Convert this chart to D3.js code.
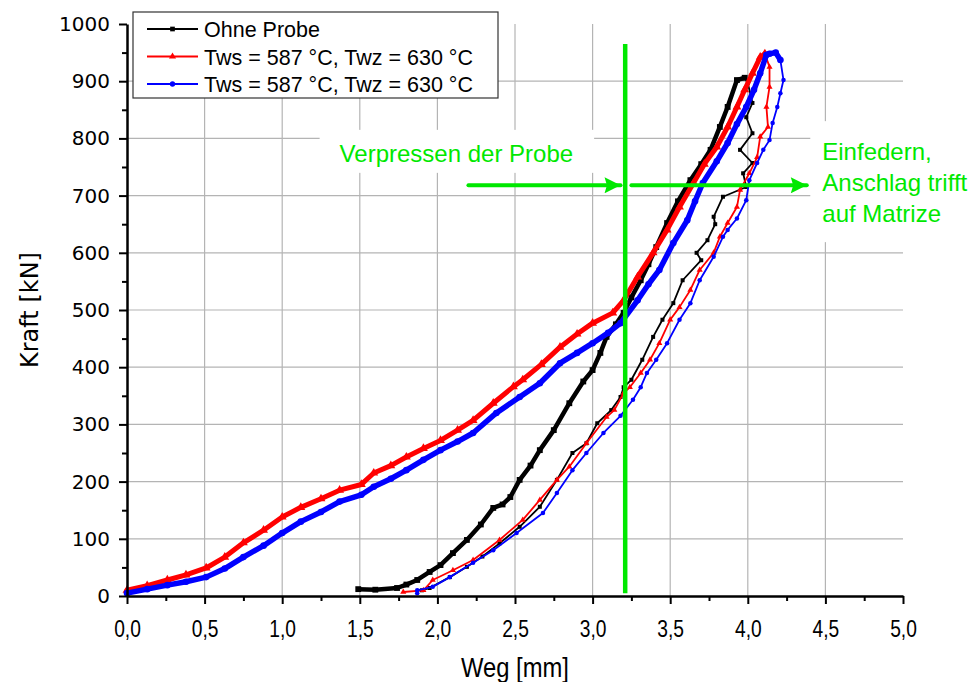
<!DOCTYPE html>
<html>
<head>
<meta charset="utf-8">
<script src="https://cdn.jsdelivr.net/npm/d3@7"></script>
<style>
  body { margin: 0; background: #fff; }
  svg { display: block; }
  .grid line { stroke: #b4b4b4; stroke-width: 1.2; }
  .axis path, .axis line { stroke: #000; }
</style>
</head>
<body>
<svg id="chart" width="980" height="682"></svg>
<script>
// Weg [mm] / Kraft [kN]
// loading branch ("Laden") and unloading branch ("Entlasten") of every run
var ohneLaden = [[1.49,12],[1.60,11],[1.74,14],[1.80,20],[1.87,28],[1.95,42],[2.02,54],[2.10,75],[2.19,98],
	[2.28,125],[2.36,154],[2.42,160],[2.47,173],[2.53,203],[2.60,228],[2.66,255],[2.75,290],[2.85,337],[2.94,375],
	[3.00,395],[3.05,425],[3.09,453],[3.15,475],[3.20,495],[3.25,522],[3.31,552],[3.36,580],[3.41,610],
	[3.48,652],[3.55,690],[3.63,727],[3.70,755],[3.76,780],[3.82,820],[3.87,855],[3.93,902],[3.98,906]];
var ohneEntlasten = [[3.98,906],[4.00,897],[4.03,862],[3.99,837],[4.03,809],[3.95,780],[4.03,757],[3.97,739],
	[3.99,715],[3.84,698],[3.78,663],[3.79,650],[3.74,622],[3.67,600],[3.70,587],[3.58,552],[3.52,512],
	[3.45,483],[3.39,453],[3.32,413],[3.25,378],[3.20,365],[3.18,348],[3.12,325],[3.03,302],[2.96,267],
	[2.87,250],[2.77,203],[2.66,156],[2.53,121],[2.40,92],[2.29,69],[2.19,51],[2.08,33],[1.95,14],[1.90,10]];

var rotLaden = [[0.00,10],[0.13,18],[0.26,28],[0.38,37],[0.51,49],[0.63,68],[0.75,93],[0.88,115],[1.00,138],
	[1.12,155],[1.25,170],[1.37,185],[1.51,195],[1.59,215],[1.70,228],[1.80,243],[1.91,258],[2.02,272],
	[2.13,290],[2.23,307],[2.36,337],[2.49,366],[2.55,378],[2.67,405],[2.79,435],[2.90,458],[3.00,477],
	[3.13,495],[3.20,517],[3.29,558],[3.39,600],[3.48,640],[3.56,680],[3.65,722],[3.72,755],[3.80,785],
	[3.87,820],[3.93,855],[3.98,885],[4.03,914],[4.08,942],[4.11,948]];
var rotEntlasten = [[4.11,948],[4.14,925],[4.14,890],[4.12,855],[4.13,820],[4.08,803],[4.06,767],[4.01,739],
	[3.95,710],[3.93,680],[3.87,652],[3.82,628],[3.78,600],[3.69,570],[3.63,535],[3.56,505],[3.50,483],
	[3.43,442],[3.37,413],[3.31,390],[3.24,365],[3.20,355],[3.14,325],[3.09,313],[2.96,267],[2.85,226],
	[2.77,203],[2.66,168],[2.55,133],[2.40,98],[2.23,63],[2.10,45],[1.97,28],[1.91,10],[1.78,7]];

var blauLaden = [[0.00,5],[0.13,12],[0.26,19],[0.38,25],[0.51,33],[0.63,48],[0.75,68],[0.88,88],[1.00,110],
	[1.12,130],[1.25,147],[1.37,165],[1.51,177],[1.59,191],[1.70,205],[1.80,220],[1.91,238],[2.02,255],
	[2.13,270],[2.23,285],[2.38,320],[2.53,348],[2.66,372],[2.79,407],[2.90,425],[3.00,442],[3.10,460],
	[3.18,477],[3.29,517],[3.36,545],[3.43,570],[3.52,617],[3.61,657],[3.66,690],[3.71,722],[3.80,760],
	[3.87,792],[3.93,825],[3.99,855],[4.04,885],[4.08,914],[4.12,946],[4.14,948],[4.18,950],[4.21,937]];
var blauEntlasten = [[4.21,937],[4.23,902],[4.21,879],[4.19,855],[4.16,827],[4.14,797],[4.10,780],[4.06,757],
	[4.01,727],[3.99,692],[3.93,660],[3.87,640],[3.84,628],[3.78,593],[3.69,552],[3.63,512],[3.56,483],
	[3.48,442],[3.41,413],[3.35,390],[3.31,365],[3.26,343],[3.18,315],[3.07,285],[2.96,250],[2.87,220],
	[2.77,180],[2.68,145],[2.51,110],[2.36,80],[2.23,58],[2.08,33],[1.97,16],[1.87,10],[1.87,5]];

var legendLabels = ["Ohne Probe", "Tws = 587 °C, Twz = 630 °C", "Tws = 587 °C, Twz = 630 °C"];
var xTicks = [0, 0.5, 1, 1.5, 2, 2.5, 3, 3.5, 4, 4.5, 5];
var yTicks = [0, 100, 200, 300, 400, 500, 600, 700, 800, 900, 1000];
var grenzeWeg = 3.21;        // green separator
var annoLinks = ["Verpressen der Probe"];
var annoRechts = ["Einfedern,", "Anschlag trifft", "auf Matrize"];

var GREEN = "#00e800";
var margin = {top: 24, right: 77, bottom: 86, left: 127};
var svg = d3.select("#chart");
var W = +svg.attr("width") - margin.left - margin.right;
var H = +svg.attr("height") - margin.top - margin.bottom;

var x = d3.scaleLinear().domain([0, 5]).range([0, W]);
var y = d3.scaleLinear().domain([0, 1000]).range([H, 0]);

var g = svg.append("g").attr("transform", "translate(" + margin.left + "," + margin.top + ")");

// grid
g.append("g").attr("class", "grid")
	.selectAll("line").data(xTicks.filter(function(d) { return d > 0 && d < 5; }))
	.enter().append("line")
	.attr("x1", function(d) { return x(d); }).attr("x2", function(d) { return x(d); })
	.attr("y1", 0).attr("y2", H);
g.append("g").attr("class", "grid")
	.selectAll("line").data(yTicks.filter(function(d) { return d > 0 && d < 1000; }))
	.enter().append("line")
	.attr("y1", function(d) { return y(d); }).attr("y2", function(d) { return y(d); })
	.attr("x1", 0).attr("x2", W);

// annotation text, white boxes behind them hide the grid
var boxLayer = g.append("g");

var tLinks = g.append("text")
	.attr("x", x(1.37)).attr("y", y(759))
	.attr("fill", GREEN)
	.style("font-family", "'Liberation Sans', Arial, sans-serif")
	.style("font-size", "24px")
	.text(annoLinks[0]);

var tRechts = g.append("text")
	.attr("x", x(4.48)).attr("y", y(762))
	.attr("fill", GREEN)
	.style("font-family", "'Liberation Sans', Arial, sans-serif")
	.style("font-size", "24px");
tRechts.selectAll("tspan").data(annoRechts).enter().append("tspan")
	.attr("x", x(4.48))
	.attr("dy", function(d, i) { return i === 0 ? 0 : 31; })
	.text(function(d) { return d; });

var b1 = tLinks.node().getBBox();
boxLayer.append("rect").attr("x", b1.x - 20).attr("y", b1.y - 10).attr("width", b1.width + 41).attr("height", b1.height + 16).attr("fill", "#fff");
var b2 = tRechts.node().getBBox();
boxLayer.append("rect").attr("x", b2.x - 12).attr("y", b2.y - 17).attr("width", b2.width + 40).attr("height", b2.height + 32).attr("fill", "#fff");

// curves
var line = d3.line().x(function(d) { return x(d[0]); }).y(function(d) { return y(d[1]); });

var serien = [
	{farbe: "#000", laden: ohneLaden, entlasten: ohneEntlasten, symbol: d3.symbolSquare, breite: 4.5},
	{farbe: "#ff0000", laden: rotLaden, entlasten: rotEntlasten, symbol: d3.symbolTriangle, breite: 5},
	{farbe: "#0000ff", laden: blauLaden, entlasten: blauEntlasten, symbol: d3.symbolCircle, breite: 5.5}
];

serien.forEach(function(s) {
	var sg = g.append("g");
	sg.append("path").datum(s.entlasten)
		.attr("d", line).attr("fill", "none")
		.attr("stroke", s.farbe).attr("stroke-width", 1.8).attr("stroke-linejoin", "round");
	sg.selectAll(".pt").data(s.entlasten).enter().append("path")
		.attr("class", "pt")
		.attr("transform", function(d) { return "translate(" + x(d[0]) + "," + y(d[1]) + ")"; })
		.attr("d", d3.symbol().type(s.symbol).size(16))
		.attr("fill", s.farbe);
	sg.append("path").datum(s.laden)
		.attr("d", line).attr("fill", "none")
		.attr("stroke", s.farbe).attr("stroke-width", s.breite)
		.attr("stroke-linejoin", "round").attr("stroke-linecap", "round");
	// the loading runs are densely sampled, so their symbols pile up along the line
	sg.selectAll(".pl").data(s.laden).enter().append("path")
		.attr("class", "pl")
		.attr("transform", function(d) { return "translate(" + x(d[0]) + "," + y(d[1]) + ")"; })
		.attr("d", d3.symbol().type(s.symbol).size(34))
		.attr("fill", s.farbe);
});

// green separator and arrows
g.append("line")
	.attr("x1", x(grenzeWeg)).attr("x2", x(grenzeWeg))
	.attr("y1", y(965)).attr("y2", y(5))
	.attr("stroke", GREEN).attr("stroke-width", 4.5);

var defs = svg.append("defs");
defs.append("marker").attr("id", "pfeil")
	.attr("viewBox", "0 0 10 10").attr("refX", 10).attr("refY", 5)
	.attr("markerWidth", 7).attr("markerHeight", 4)
	.attr("markerUnits", "strokeWidth").attr("orient", "auto")
	.append("path").attr("d", "M0,0 L10,5 L0,10 L1.5,5 Z").attr("fill", GREEN);

[[2.20, 3.18], [3.25, 4.38]].forEach(function(p) {
	g.append("line")
		.attr("x1", x(p[0])).attr("x2", x(p[1]))
		.attr("y1", y(718)).attr("y2", y(718))
		.attr("stroke", GREEN).attr("stroke-width", 4)
		.attr("stroke-linecap", "round")
		.attr("marker-end", "url(#pfeil)");
});
tLinks.raise();
tRechts.raise();

// axes
var xAxis = g.append("g").attr("class", "axis").attr("transform", "translate(0," + H + ")")
	.call(d3.axisBottom(x).tickValues(xTicks).tickSize(8).tickSizeOuter(0)
		.tickFormat(function(d) { return d3.format(".1f")(d).replace(".", ","); }));
g.append("g").attr("class", "axis").attr("transform", "translate(0," + H + ")")
	.call(d3.axisBottom(x).tickValues(d3.range(0.25, 5, 0.5)).tickSize(5).tickFormat(""))
	.select(".domain").remove();
var yAxis = g.append("g").attr("class", "axis")
	.call(d3.axisLeft(y).tickValues(yTicks).tickSize(8).tickSizeOuter(0).tickFormat(d3.format("d")));
g.append("g").attr("class", "axis")
	.call(d3.axisLeft(y).tickValues(d3.range(50, 1000, 100)).tickSize(5).tickFormat(""))
	.select(".domain").remove();

g.selectAll(".axis path").attr("stroke-width", 2.5);
g.selectAll(".axis line").attr("stroke-width", 2);

// narrow tick font, as in the original
xAxis.selectAll("text")
	.attr("y", 24)
	.attr("transform", "scale(0.8,1)")
	.style("font-family", "'Liberation Sans', Arial, sans-serif")
	.style("font-size", "24px").attr("fill", "#000");
yAxis.selectAll("text")
	.attr("x", -17)
	.style("font-family", "'DejaVu Sans', sans-serif")
	.style("font-size", "20px").attr("fill", "#000");

svg.append("text")
	.attr("transform", "translate(" + (margin.left + W / 2) + ",677) scale(0.85,1)")
	.attr("text-anchor", "middle")
	.style("font-family", "'Liberation Sans', Arial, sans-serif")
	.style("font-size", "28px")
	.text("Weg [mm]");
svg.append("text")
	.attr("transform", "translate(38," + (margin.top + H / 2) + ") rotate(-90)")
	.attr("text-anchor", "middle")
	.style("font-family", "'DejaVu Sans', sans-serif")
	.style("font-size", "24px")
	.text("Kraft [kN]");

// legend
var leg = svg.append("g").attr("transform", "translate(133,12)");
leg.append("rect").attr("width", 365).attr("height", 86)
	.attr("fill", "#fff").attr("stroke", "#333").attr("stroke-width", 1.2);
var eintrag = leg.selectAll(".eintrag").data(serien).enter().append("g")
	.attr("class", "eintrag")
	.attr("transform", function(d, i) { return "translate(0," + (17 + i * 27.5) + ")"; });
eintrag.append("line").attr("x1", 14).attr("x2", 65)
	.attr("stroke", function(d) { return d.farbe; }).attr("stroke-width", 2);
eintrag.append("path").attr("transform", "translate(39.5,0)")
	.attr("d", function(d) { return d3.symbol().type(d.symbol).size(22)(); })
	.attr("fill", function(d) { return d.farbe; });
eintrag.append("text").attr("x", 71).attr("y", 8)
	.style("font-family", "'Liberation Sans', Arial, sans-serif")
	.style("font-size", "21.5px")
	.text(function(d, i) { return legendLabels[i]; });
</script>
</body>
</html>
